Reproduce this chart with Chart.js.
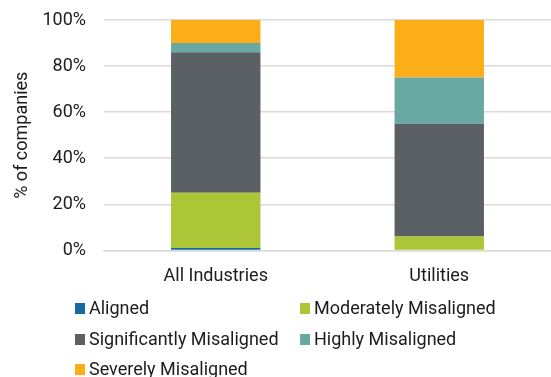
<!DOCTYPE html>
<html>
<head>
<meta charset="utf-8">
<script src="https://cdn.jsdelivr.net/npm/chart.js@4.4.0/dist/chart.umd.min.js"></script>
<style>
  html, body { margin: 0; padding: 0; background: #fff; overflow: hidden; }
  #wrap { width: 551px; height: 377px; }
</style>
</head>
<body>
<div id="wrap"><canvas id="alignChart" width="551" height="377"></canvas></div>
<script>
const categories = ['All Industries', 'Utilities'];
const seriesNames = ['Aligned', 'Moderately Misaligned', 'Significantly Misaligned', 'Highly Misaligned', 'Severely Misaligned'];
const aligned = [1, 0];
const moderately = [24, 6];
const significantly = [61, 49];
const highly = [4, 20];
const severely = [10, 25];
const yTicks = [0, 20, 40, 60, 80, 100];

const colors = ['#166aa3', '#adc638', '#5b6064', '#67a8a2', '#fcae19'];
const textColor = '#1c1c1c';
const fontFamily = 'Roboto, "Noto Sans", sans-serif';

const seriesValues = [aligned, moderately, significantly, highly, severely];

// legend laid out in two fixed columns under the axis
const columnLegend = {
  id: 'columnLegend',
  afterDraw(chart) {
    const ctx = chart.ctx;
    const colX = [75, 300];
    const rowY = [308, 339, 369];
    ctx.save();
    ctx.font = '18px ' + fontFamily;
    ctx.textBaseline = 'middle';
    chart.data.datasets.forEach((ds, i) => {
      const x = colX[i % 2];
      const y = rowY[Math.floor(i / 2)];
      ctx.fillStyle = ds.backgroundColor;
      ctx.fillRect(x, y - 5, 10, 11);
      ctx.fillStyle = textColor;
      ctx.fillText(ds.label, x + 14, y + 1);
    });
    ctx.restore();
  }
};

new Chart(document.getElementById('alignChart').getContext('2d'), {
  type: 'bar',
  data: {
    labels: categories,
    datasets: seriesNames.map((name, i) => ({
      label: name,
      data: seriesValues[i],
      backgroundColor: colors[i],
      borderWidth: 0,
      categoryPercentage: 0.4,
      barPercentage: 1
    }))
  },
  options: {
    responsive: false,
    animation: false,
    layout: { padding: { left: 12, top: 20, right: 0, bottom: 83 } },
    plugins: {
      legend: { display: false },
      tooltip: { enabled: false }
    },
    scales: {
      x: {
        stacked: true,
        grid: { display: false },
        border: { color: '#d9d9d9', width: 1.5 },
        ticks: { color: textColor, font: { family: fontFamily, size: 18 }, padding: 7 }
      },
      y: {
        stacked: true,
        min: 0,
        max: 100,
        afterBuildTicks: axis => { axis.ticks = yTicks.map(v => ({ value: v })); },
        // fixed axis width; plot top sits at the layout padding
        afterFit: axis => { axis.width = 92; axis.paddingTop = 0; axis.paddingBottom = 0; },
        grid: { color: '#d9d9d9', lineWidth: 1.5, drawTicks: false },
        border: { display: false },
        ticks: {
          color: textColor,
          font: { family: fontFamily, size: 18 },
          padding: 18,
          callback: v => v + '%'
        },
        title: {
          display: true,
          text: '% of companies',
          color: textColor,
          font: { family: fontFamily, size: 18 },
          padding: { top: 0, bottom: 4 }
        }
      }
    }
  },
  plugins: [columnLegend]
});
</script>
</body>
</html>
